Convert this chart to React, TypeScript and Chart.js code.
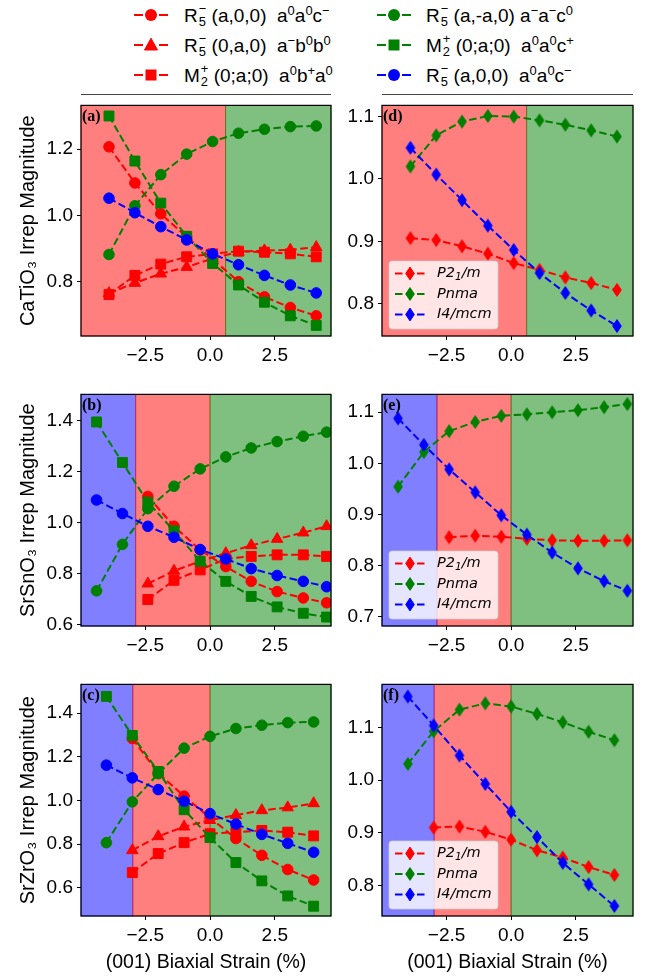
import React, { useEffect, useRef } from 'react';
import { Chart, registerables } from 'chart.js';
Chart.register(...registerables);

// ---------------- DATA ----------------
const RED = '#ff0000';
const GREEN = '#008000';
const BLUE = '#0000ff';

// strain values (%) for each substrate set
const strainCa = [-3.9, -2.9, -1.9, -0.9, 0.1, 1.1, 2.1, 3.1, 4.1];
const strainSn = [-4.38, -3.38, -2.4, -1.39, -0.38, 0.61, 1.59, 2.59, 3.6, 4.5];
const strainZr = [-4.0, -3.0, -2.0, -1.0, 0.0, 1.0, 2.0, 3.0, 4.0];

// (a) CaTiO3 irreps
const caP21mR5 = [1.207, 1.098, 1.005, 0.935, 0.868, 0.8, 0.754, 0.722, 0.697];
const caP21mR5b = [0.765, 0.796, 0.824, 0.844, 0.87, 0.89, 0.894, 0.896, 0.904];
const caP21mM2 = [0.761, 0.819, 0.853, 0.875, 0.884, 0.892, 0.889, 0.884, 0.875];
const caPnmaR5 = [0.882, 1.029, 1.123, 1.185, 1.223, 1.248, 1.26, 1.268, 1.27];
const caPnmaM2 = [1.3, 1.164, 1.037, 0.937, 0.855, 0.79, 0.738, 0.697, 0.668];
const caI4R5 = [1.052, 1.008, 0.966, 0.926, 0.884, 0.851, 0.819, 0.79, 0.766];

// (b) SrSnO3 irreps
const snP21mR5 = [null, null, 1.104, 0.987, 0.894, 0.829, 0.771, 0.731, 0.706, 0.687];
const snP21mR5b = [null, null, 0.762, 0.812, 0.85, 0.881, 0.912, 0.937, 0.962, 0.987];
const snP21mM2 = [null, null, 0.7, 0.775, 0.816, 0.859, 0.869, 0.875, 0.875, 0.869];
const snPnmaR5 = [0.734, 0.916, 1.056, 1.144, 1.212, 1.259, 1.294, 1.319, 1.34, 1.356];
const snPnmaM2 = [1.396, 1.237, 1.081, 0.969, 0.85, 0.771, 0.712, 0.671, 0.646, 0.631];
const snI4R5 = [1.09, 1.037, 0.987, 0.944, 0.896, 0.859, 0.821, 0.794, 0.771, 0.75];

// (c) SrZrO3 irreps
const zrP21mR5 = [null, 1.284, 1.126, 1.02, 0.921, 0.826, 0.749, 0.684, 0.636];
const zrP21mR5b = [null, 0.772, 0.836, 0.88, 0.91, 0.933, 0.955, 0.968, 0.987];
const zrP21mM2 = [null, 0.67, 0.757, 0.807, 0.848, 0.855, 0.863, 0.855, 0.838];
const zrPnmaR5 = [0.807, 0.994, 1.123, 1.24, 1.294, 1.33, 1.345, 1.357, 1.36];
const zrPnmaM2 = [1.477, 1.298, 1.133, 0.958, 0.83, 0.716, 0.632, 0.563, 0.516];
const zrI4R5 = [1.162, 1.104, 1.05, 0.997, 0.94, 0.892, 0.845, 0.804, 0.763];

// (d)-(f) total distortion per phase
const caP21m = [0.905, 0.902, 0.892, 0.88, 0.865, 0.854, 0.842, 0.833, 0.822];
const caPnma = [1.02, 1.07, 1.092, 1.101, 1.1, 1.094, 1.087, 1.078, 1.068];
const caI4mcm = [1.05, 1.007, 0.966, 0.925, 0.886, 0.849, 0.817, 0.789, 0.764];

const snP21m = [null, null, 0.855, 0.858, 0.856, 0.852, 0.849, 0.848, 0.848, 0.849];
const snPnma = [0.954, 1.022, 1.063, 1.081, 1.093, 1.096, 1.1, 1.104, 1.11, 1.116];
const snI4mcm = [1.088, 1.036, 0.988, 0.943, 0.898, 0.86, 0.825, 0.794, 0.769, 0.75];

const zrP21m = [null, 0.91, 0.912, 0.902, 0.887, 0.867, 0.853, 0.835, 0.82];
const zrPnma = [1.031, 1.093, 1.134, 1.146, 1.14, 1.126, 1.11, 1.092, 1.076];
const zrI4mcm = [1.159, 1.104, 1.047, 0.993, 0.94, 0.892, 0.843, 0.802, 0.761];

// phase boundaries (strain %) and phase colours (left to right)
const caBoundaries = [0.6];
const caPhaseColors = ['red', 'green'];
const snBoundaries = [-2.87, 0.0];
const snPhaseColors = ['blue', 'red', 'green'];
const zrBoundaries = [-2.98, 0.0];
const zrPhaseColors = ['blue', 'red', 'green'];

// tick labels
const strainTicks = [-2.5, 0.0, 2.5];
const caIrrepTicks = [0.8, 1.0, 1.2];
const snIrrepTicks = [0.6, 0.8, 1.0, 1.2, 1.4];
const zrIrrepTicks = [0.6, 0.8, 1.0, 1.2, 1.4];
const caPhaseTicks = [0.8, 0.9, 1.0, 1.1];
const snPhaseTicks = [0.7, 0.8, 0.9, 1.0, 1.1];
const zrPhaseTicks = [0.8, 0.9, 1.0, 1.1];

const irrepLabels = [
  'R_{5}^{−} (a,0,0)  a^{0}a^{0}c^{−}',
  'R_{5}^{−} (0,a,0)  a^{−}b^{0}b^{0}',
  'M_{2}^{+} (0;a;0)  a^{0}b^{+}a^{0}',
  'R_{5}^{−} (a,-a,0) a^{−}a^{−}c^{0}',
  'M_{2}^{+} (0;a;0)  a^{0}a^{0}c^{+}',
  'R_{5}^{−} (a,0,0)  a^{0}a^{0}c^{−}',
];
const irrepColors = [RED, RED, RED, GREEN, GREEN, BLUE];
const irrepMarkers = ['circle', 'triangle', 'rect', 'circle', 'rect', 'circle'];
const phaseLabels = ['P2_1/m', 'Pnma', 'I4/mcm'];
const phaseColors = [RED, GREEN, BLUE];

// ---------------- LAYOUT / STYLE ----------------
const SANS = '"Liberation Sans", Arial, sans-serif';
const DEJAVU = '"DejaVu Sans", sans-serif';
const SERIF = '"Liberation Serif", "Times New Roman", serif';
const BAND: Record<string, string> = {
  red: 'rgba(255,0,0,0.5)',
  green: 'rgba(0,128,0,0.5)',
  blue: 'rgba(0,0,255,0.5)',
};

type Series = { label: string; values: (number | null)[]; color: string; marker: string };
type PanelSpec = {
  tag: string;
  strain: number[];
  series: Series[];
  xRange: [number, number];
  yRange: [number, number];
  yTicks: number[];
  boundaries: number[];
  phases: string[];
  yTitle?: string;
  xTitle: boolean;
  legend: boolean;
  left: number;
  top: number;
  width: number;
  height: number;
  padLeft: number;
  padRight: number;
  yAxisWidth: number;
  xAxisHeight: number;
};

const leftCol = { left: 0, width: 340, padLeft: 12, yAxisWidth: 69, padRight: 9 };
const rightCol = { left: 335, width: 322, padLeft: 0, yAxisWidth: 47, padRight: 24 };
const rows = [
  { top: 90, plotH: 241, xh: 40 },
  { top: 379, plotH: 242, xh: 40 },
  { top: 669, plotH: 242, xh: 60 },
];

function irrepSeries(vals: (number | null)[][]): Series[] {
  return vals.map((v, i) => ({ label: irrepLabels[i], values: v, color: irrepColors[i], marker: irrepMarkers[i] }));
}
function phaseSeries(vals: (number | null)[][]): Series[] {
  return vals.map((v, i) => ({ label: phaseLabels[i], values: v, color: phaseColors[i], marker: 'diamond' }));
}

function mk(col: typeof leftCol, r: number, rest: any): PanelSpec {
  const row = rows[r];
  return {
    ...rest,
    left: col.left,
    width: col.width,
    padLeft: col.padLeft,
    padRight: col.padRight,
    yAxisWidth: col.yAxisWidth,
    top: row.top,
    height: 5 + row.plotH + row.xh,
    xAxisHeight: row.xh,
    xTitle: r === 2,
  };
}

const panels: PanelSpec[] = [
  mk(leftCol, 0, {
    tag: 'a', strain: strainCa, series: irrepSeries([caP21mR5, caP21mR5b, caP21mM2, caPnmaR5, caPnmaM2, caI4R5]),
    xRange: [-4.98, 4.67], yRange: [0.636, 1.332], yTicks: caIrrepTicks, boundaries: caBoundaries, phases: caPhaseColors,
    yTitle: 'CaTiO₃ Irrep Magnitude', legend: false,
  }),
  mk(leftCol, 1, {
    tag: 'b', strain: strainSn, series: irrepSeries([snP21mR5, snP21mR5b, snP21mM2, snPnmaR5, snPnmaM2, snI4R5]),
    xRange: [-4.98, 4.67], yRange: [0.596, 1.504], yTicks: snIrrepTicks, boundaries: snBoundaries, phases: snPhaseColors,
    yTitle: 'SrSnO₃ Irrep Magnitude', legend: false,
  }),
  mk(leftCol, 2, {
    tag: 'c', strain: strainZr, series: irrepSeries([zrP21mR5, zrP21mR5b, zrP21mM2, zrPnmaR5, zrPnmaM2, zrI4R5]),
    xRange: [-4.98, 4.67], yRange: [0.471, 1.532], yTicks: zrIrrepTicks, boundaries: zrBoundaries, phases: zrPhaseColors,
    yTitle: 'SrZrO₃ Irrep Magnitude', legend: false,
  }),
  mk(rightCol, 0, {
    tag: 'd', strain: strainCa, series: phaseSeries([caP21m, caPnma, caI4mcm]),
    xRange: [-5.0, 4.72], yRange: [0.748, 1.118], yTicks: caPhaseTicks, boundaries: caBoundaries, phases: caPhaseColors,
    legend: true,
  }),
  mk(rightCol, 1, {
    tag: 'e', strain: strainSn, series: phaseSeries([snP21m, snPnma, snI4mcm]),
    xRange: [-5.0, 4.72], yRange: [0.681, 1.135], yTicks: snPhaseTicks, boundaries: snBoundaries, phases: snPhaseColors,
    legend: true,
  }),
  mk(rightCol, 2, {
    tag: 'f', strain: strainZr, series: phaseSeries([zrP21m, zrPnma, zrI4mcm]),
    xRange: [-5.0, 4.72], yRange: [0.742, 1.182], yTicks: zrPhaseTicks, boundaries: zrBoundaries, phases: zrPhaseColors,
    legend: true,
  }),
];

// ---------------- DRAWING HELPERS ----------------
const DW = 4.3; // diamond half width
const DH = 6.4; // diamond half height
function diamondPath(ctx: CanvasRenderingContext2D, x: number, y: number) {
  ctx.beginPath();
  ctx.moveTo(x, y - DH);
  ctx.lineTo(x + DW, y);
  ctx.lineTo(x, y + DH);
  ctx.lineTo(x - DW, y);
  ctx.closePath();
}
function diamondImage(color: string) {
  const c = document.createElement('canvas');
  c.width = 12;
  c.height = 16;
  const ctx = c.getContext('2d')!;
  ctx.fillStyle = color;
  ctx.strokeStyle = color;
  ctx.lineWidth = 1;
  diamondPath(ctx, 6, 8);
  ctx.fill();
  ctx.stroke();
  return c;
}

function fmtTick(v: number) {
  const s = Math.abs(v).toFixed(1);
  return v < -1e-9 ? '−' + s : s;
}

function drawPhaseLabel(ctx: CanvasRenderingContext2D, text: string, x: number, y: number) {
  // text like "P2_1/m": underscore marks a one-char subscript
  ctx.font = `italic 14.5px ${DEJAVU}`;
  ctx.textBaseline = 'middle';
  ctx.textAlign = 'left';
  let cx = x;
  let i = 0;
  while (i < text.length) {
    if (text[i] === '_') {
      const ch = text[i + 1];
      ctx.font = `italic 10.5px ${DEJAVU}`;
      ctx.fillText(ch, cx, y + 4);
      cx += ctx.measureText(ch).width;
      ctx.font = `italic 14.5px ${DEJAVU}`;
      i += 2;
    } else {
      ctx.fillText(text[i], cx, y);
      cx += ctx.measureText(text[i]).width;
      i += 1;
    }
  }
}

function decorPlugin(p: PanelSpec) {
  return {
    id: 'decor_' + p.tag,
    beforeDatasetsDraw(chart: any) {
      const { ctx, chartArea: a } = chart;
      const xs = chart.scales.x;
      const edges = [xs.min, ...p.boundaries, xs.max];
      ctx.save();
      for (let i = 0; i < p.phases.length; i++) {
        const x0 = xs.getPixelForValue(edges[i]);
        const x1 = xs.getPixelForValue(edges[i + 1]);
        ctx.fillStyle = BAND[p.phases[i]];
        ctx.fillRect(x0, a.top, x1 - x0, a.bottom - a.top);
        ctx.strokeStyle = BAND[p.phases[i]];
        ctx.lineWidth = 1;
        ctx.strokeRect(x0, a.top, x1 - x0, a.bottom - a.top);
      }
      ctx.restore();
    },
    afterDatasetsDraw(chart: any) {
      const { ctx, chartArea: a } = chart;
      ctx.save();
      // panel tag
      ctx.fillStyle = '#000';
      ctx.font = `bold 16px ${SERIF}`;
      ctx.textBaseline = 'top';
      ctx.textAlign = 'left';
      ctx.fillText(`(${p.tag})`, a.left + 1, a.top + 3);

      if (p.legend) {
        const bw = 109;
        const bh = 68;
        const bx = a.left + 7;
        const by = a.bottom - 7 - bh;
        ctx.beginPath();
        ctx.roundRect(bx, by, bw, bh, 3);
        ctx.fillStyle = 'rgba(255,255,255,0.8)';
        ctx.fill();
        ctx.strokeStyle = 'rgba(204,204,204,0.8)';
        ctx.lineWidth = 1;
        ctx.stroke();
        p.series.forEach((s, i) => {
          const cy = by + 12.5 + i * 20.5;
          ctx.strokeStyle = s.color;
          ctx.lineWidth = 2;
          ctx.setLineDash([7.5, 3.5]);
          ctx.beginPath();
          ctx.moveTo(bx + 6, cy);
          ctx.lineTo(bx + 36, cy);
          ctx.stroke();
          ctx.setLineDash([]);
          ctx.fillStyle = s.color;
          ctx.lineWidth = 1;
          diamondPath(ctx, bx + 21, cy);
          ctx.fill();
          ctx.stroke();
          ctx.fillStyle = '#000';
          drawPhaseLabel(ctx, s.label, bx + 48, cy);
        });
      }
      // frame
      ctx.strokeStyle = '#000';
      ctx.lineWidth = 1.2;
      ctx.strokeRect(a.left, a.top, a.right - a.left, a.bottom - a.top);
      ctx.restore();
    },
  };
}

function Panel({ spec }: { spec: PanelSpec }) {
  const ref = useRef<HTMLCanvasElement>(null);
  useEffect(() => {
    const canvas = ref.current!;
    const datasets = spec.series.map((s, i) => {
      const pts = spec.strain
        .map((x, j) => ({ x, y: s.values[j] }))
        .filter((pt) => pt.y !== null && pt.y !== undefined);
      const style: any = s.marker === 'diamond' ? diamondImage(s.color) : s.marker;
      const radius = s.marker === 'rect' ? 7 : s.marker === 'triangle' ? 6.6 : s.marker === 'circle' ? 5.3 : 6;
      return {
        label: s.label,
        data: pts,
        showLine: true,
        borderColor: s.color,
        backgroundColor: s.color,
        borderWidth: 2,
        borderDash: [7.5, 3.5],
        pointStyle: style,
        pointRadius: radius,
        pointBorderWidth: 1,
        pointBorderColor: s.color,
        pointBackgroundColor: s.color,
        order: -i,
        tension: 0,
        fill: false,
      };
    });
    const tickFont = { family: SANS, size: 19 };
    const chart = new Chart(canvas, {
      type: 'scatter',
      data: { datasets },
      options: {
        animation: false,
        responsive: false,
        maintainAspectRatio: false,
        events: [],
        layout: { padding: { left: spec.padLeft, right: spec.padRight, top: 5, bottom: 0 } },
        plugins: { legend: { display: false }, tooltip: { enabled: false } },
        scales: {
          x: {
            type: 'linear',
            min: spec.xRange[0],
            max: spec.xRange[1],
            afterBuildTicks: (s: any) => {
              s.ticks = strainTicks.map((v) => ({ value: v }));
            },
            afterFit: (s: any) => {
              s.height = spec.xAxisHeight;
            },
            grid: { drawOnChartArea: false, drawTicks: true, tickLength: 4, color: '#000', tickColor: '#000', tickWidth: 1 },
            border: { display: false },
            ticks: { color: '#000', font: tickFont, padding: 4, autoSkip: false, maxRotation: 0, callback: (v: any) => fmtTick(Number(v)) },
            title: {
              display: spec.xTitle,
              text: '(001) Biaxial Strain (%)',
              color: '#000',
              font: { family: SANS, size: 19.5 },
              padding: { top: 2, bottom: 2 },
            },
          },
          y: {
            type: 'linear',
            min: spec.yRange[0],
            max: spec.yRange[1],
            afterBuildTicks: (s: any) => {
              s.ticks = spec.yTicks.map((v) => ({ value: v }));
            },
            afterFit: (s: any) => {
              s.width = spec.yAxisWidth;
            },
            grid: { drawOnChartArea: false, drawTicks: true, tickLength: 4, color: '#000', tickColor: '#000', tickWidth: 1 },
            border: { display: false },
            ticks: { color: '#000', font: tickFont, padding: 4, autoSkip: false, callback: (v: any) => Number(v).toFixed(1) },
            title: {
              display: !!spec.yTitle,
              text: spec.yTitle || '',
              color: '#000',
              font: { family: SANS, size: 20 },
              padding: { top: 4, bottom: 4 },
            },
          },
        },
      } as any,
      plugins: [decorPlugin(spec)],
    });
    return () => chart.destroy();
  }, [spec]);
  return (
    <canvas
      ref={ref}
      width={spec.width}
      height={spec.height}
      style={{ position: 'absolute', left: spec.left, top: spec.top, width: spec.width, height: spec.height }}
    />
  );
}

// ---------------- FIGURE LEGEND ----------------
function Sup({ c }: { c: string }) {
  return <span style={{ fontSize: '0.68em', position: 'relative', top: '-0.5em' }}>{c}</span>;
}
function Stack({ sup, sub }: { sup: string; sub: string }) {
  return (
    <span style={{ display: 'inline-block', verticalAlign: '-0.32em', fontSize: '0.68em', lineHeight: '1.0em', marginLeft: 1 }}>
      <span style={{ display: 'block' }}>{sup}</span>
      <span style={{ display: 'block' }}>{sub}</span>
    </span>
  );
}
function renderLabel(s: string) {
  const out: any[] = [];
  const re = /_\{([^}]*)\}\^\{([^}]*)\}|\^\{([^}]*)\}/g;
  let m: RegExpExecArray | null;
  let last = 0;
  let key = 0;
  while ((m = re.exec(s))) {
    if (m.index > last) out.push(s.slice(last, m.index));
    if (m[1] !== undefined) out.push(<Stack key={key++} sub={m[1]} sup={m[2]} />);
    else out.push(<Sup key={key++} c={m[3]} />);
    last = re.lastIndex;
  }
  out.push(s.slice(last));
  return out;
}
function Marker({ shape, color }: { shape: string; color: string }) {
  let mark: any;
  if (shape === 'circle') mark = <circle cx={17} cy={8} r={6} fill={color} />;
  else if (shape === 'rect') mark = <rect x={11.5} y={2.5} width={11} height={11} fill={color} />;
  else mark = <polygon points="17,1.2 23.5,13 10.5,13" fill={color} stroke={color} strokeWidth={1} />;
  return (
    <svg width={34} height={16} style={{ position: 'absolute', left: 0, top: 0 }}>
      <line x1={0} y1={8} x2={9} y2={8} stroke={color} strokeWidth={2} />
      <line x1={25} y1={8} x2={34} y2={8} stroke={color} strokeWidth={2} />
      {mark}
    </svg>
  );
}
function FigureLegend() {
  const cols = [
    { mx: 134, tx: 184, lineX: 81, lineW: 250 },
    { mx: 377, tx: 426, lineX: 382, lineW: 251 },
  ];
  const rowsY = [15, 45, 75];
  return (
    <>
      {irrepLabels.map((lab, i) => {
        const col = cols[Math.floor(i / 3)];
        const cy = rowsY[i % 3];
        return (
          <React.Fragment key={i}>
            <div style={{ position: 'absolute', left: col.mx, top: cy - 8, width: 34, height: 16 }}>
              <Marker shape={irrepMarkers[i]} color={irrepColors[i]} />
            </div>
            <div
              style={{
                position: 'absolute',
                left: col.tx,
                top: cy - 12,
                height: 24,
                lineHeight: '24px',
                fontFamily: SANS,
                fontSize: 19,
                whiteSpace: 'pre',
                color: '#000',
              }}
            >
              {renderLabel(lab)}
            </div>
          </React.Fragment>
        );
      })}
      {cols.map((c, i) => (
        <div key={'l' + i} style={{ position: 'absolute', left: c.lineX, top: 93.5, width: c.lineW, height: 1, background: '#444' }} />
      ))}
    </>
  );
}

export default function App() {
  return (
    <div style={{ position: 'absolute', left: 0, top: 0, width: 657, height: 977, background: '#fff', overflow: 'hidden' }}>
      <FigureLegend />
      {panels.map((p) => (
        <Panel key={p.tag} spec={p} />
      ))}
    </div>
  );
}
